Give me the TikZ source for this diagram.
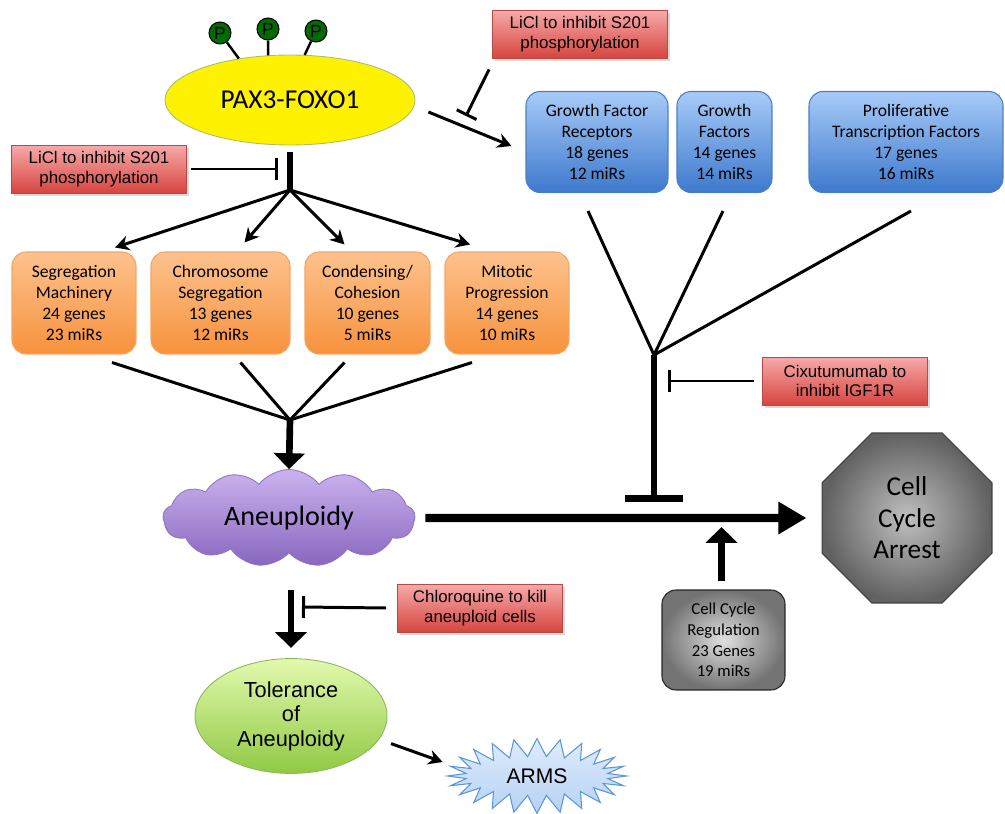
\documentclass[tikz,border=0pt]{standalone}
\usepackage{fontspec}
\setmainfont{Carlito}
\newfontfamily\arialfont{Liberation Sans}
\usetikzlibrary{arrows.meta,shapes.geometric,shapes.symbols,shadows}

\definecolor{orgtop}{HTML}{FDC28E}
\definecolor{orgbot}{HTML}{F7923C}
\definecolor{orgline}{HTML}{F2A663}
\definecolor{bluetop}{HTML}{A8CBF8}
\definecolor{bluebot}{HTML}{3D79CD}
\definecolor{blueline}{HTML}{4A7EC4}
\definecolor{redtop}{HTML}{F7AAAA}
\definecolor{redbot}{HTML}{D6453F}
\definecolor{redline}{HTML}{B84A46}
\definecolor{purtop}{HTML}{CBB3EE}
\definecolor{purbot}{HTML}{8866BE}
\definecolor{purline}{HTML}{8F74C2}
\definecolor{grntop}{HTML}{E2F9AE}
\definecolor{grnbot}{HTML}{90C944}
\definecolor{grnline}{HTML}{8DB85A}
\definecolor{startop}{HTML}{DFECFC}
\definecolor{starbot}{HTML}{B6D1F3}
\definecolor{starline}{HTML}{5B96D8}
\definecolor{pgreen}{HTML}{006B00}
\definecolor{paxline}{HTML}{A9BE6A}

\tikzset{
  genebox/.style={rounded corners=8pt, line width=0.6pt, align=center, minimum height=2.04cm, inner sep=1pt, font=\fontsize{10}{11.9}\selectfont},
  orangebox/.style={genebox, draw=orgline, top color=orgtop, bottom color=orgbot},
  bluebox/.style={genebox, draw=blueline, top color=bluetop, bottom color=bluebot, minimum height=2.02cm},
  drugbox/.style={draw=redline, line width=0.5pt, top color=redtop, bottom color=redbot, align=center, minimum width=3.5cm, minimum height=0.96cm, inner sep=1pt, font=\arialfont\fontsize{9.6}{11.3}\selectfont, drop shadow={opacity=0.3, shadow xshift=1.5pt, shadow yshift=-1.5pt}},
  phos/.style={circle, draw=black, line width=0.6pt, fill=pgreen, minimum size=0.44cm, inner sep=0pt, font=\arialfont\fontsize{10}{10}\selectfont},
  thinarrow/.style={line width=1.7pt, -{Stealth[length=8pt,width=8.5pt]}},
  inhibit/.style={line width=1.7pt, -{Bar[width=12.5pt]}},
  fatarrow/.style={line width=3.8pt, -{Triangle[length=9pt,width=17.5pt]}},
  fatline/.style={line width=3.8pt}
}

\begin{document}
\begin{tikzpicture}[x=0.02cm, y=-0.02cm]
\useasboundingbox (0,0) rectangle (1005,814);

\node[ellipse, draw=paxline, line width=0.5pt, fill=yellow, minimum width=5cm, minimum height=1.8cm, font=\fontsize{15.5}{18}\selectfont] (pax) at (290,100) {PAX3-FOXO1};
\node[phos] (p1) at (220,33) {P};
\node[phos] (p2) at (268,29) {P};
\node[phos] (p3) at (316,31) {P};
\draw[line width=1.4pt] (p1) -- (pax.141);
\draw[line width=1.4pt] (p2) -- (pax.116);
\draw[line width=1.4pt] (p3) -- (pax.72);

\node[drugbox] (lithtop) at (580,34) {LiCl to inhibit S201\\phosphorylation};
\node[drugbox] (lithleft) at (99,169) {LiCl to inhibit S201\\phosphorylation};
\node[drugbox, minimum width=3.3cm] (cixu) at (845,381) {Cixutumumab to\\inhibit IGF1R};
\node[drugbox, minimum width=3.3cm] (chloro) at (480,608) {Chloroquine to kill\\aneuploid cells};

\node[bluebox, minimum width=2.84cm] (gfr) at (597,142) {Growth Factor\\Receptors\\18 genes\\12 miRs};
\node[bluebox, minimum width=1.9cm] (gf) at (724.5,142) {Growth\\Factors\\14 genes\\14 miRs};
\node[bluebox, minimum width=3.88cm] (ptf) at (906,142) {Proliferative\\Transcription Factors\\17 genes\\16 miRs};

\node[orangebox, minimum width=2.48cm] (segm) at (74,303) {Segregation\\Machinery\\24 genes\\23 miRs};
\node[orangebox, minimum width=2.78cm] (chrom) at (220.5,303) {Chromosome\\Segregation\\13 genes\\12 miRs};
\node[orangebox, minimum width=2.5cm] (cond) at (367.5,303) {Condensing/\\Cohesion\\10 genes\\5 miRs};
\node[orangebox, minimum width=2.48cm] (mito) at (507,303) {Mitotic\\Progression\\14 genes\\10 miRs};

\node[cloud, cloud puffs=13, cloud puff arc=105, cloud ignores aspect, minimum width=5.04cm, minimum height=1.94cm, draw=purline, line width=0.5pt, top color=purtop, bottom color=purbot, font=\fontsize{16}{19}\selectfont] (aneu) at (289,518) {Aneuploidy};
\node[regular polygon, regular polygon sides=8, minimum size=3.68cm, draw=black!75, line width=0.6pt, inner color=black!25, outer color=black!62, align=center, font=\fontsize{15.5}{18}\selectfont] (arrest) at (907,518) {Cell\\Cycle\\Arrest};
\node[genebox, minimum width=2.46cm, minimum height=2cm, draw=black!85, inner color=black!12, outer color=black!55, font=\fontsize{9.5}{11.7}\selectfont] (ccreg) at (723.5,640) {Cell Cycle\\Regulation\\23 Genes\\19 miRs};
\node[ellipse, minimum width=3.84cm, minimum height=2.28cm, draw=grnline, line width=0.5pt, top color=grntop, bottom color=grnbot, align=center, font=\arialfont\fontsize{12.4}{14}\selectfont] (toler) at (291,716) {Tolerance\\of\\Aneuploidy};
\node[starburst, starburst points=24, starburst point height=0.36cm, random starburst=0, minimum width=3.58cm, minimum height=1.5cm, draw=starline, line width=0.6pt, top color=startop, bottom color=starbot, font=\arialfont\fontsize{12}{14}\selectfont] (arms) at (537,776) {ARMS};

\coordinate (hubtop) at (290,152);
\coordinate (hub) at (290,190);
\coordinate (lithend) at (278,169);
\coordinate (topbar) at (466,116);
\coordinate (merge) at (290,420);
\coordinate (gmerge) at (654,355);
\coordinate (gbar) at (654,502);
\coordinate (cixuend) at (668,381);
\coordinate (downtop) at (291,590);
\coordinate (downtip) at (291,648);
\coordinate (chloroend) at (302,607);

\draw[fatline] (hubtop) -- (hub);
\draw[inhibit] ([shift={(4,0)}]lithleft.east) -- (lithend);
\draw[inhibit] ([shift={(-3,11)}]lithtop.south west) -- (topbar);
\draw[thinarrow] ([shift={(13,12)}]pax.east) -- ([shift={(-14,4)}]gfr.west);

\draw[thinarrow] (hub) -- ([shift={(41,-4)}]segm.north);
\draw[thinarrow] (hub) -- ([shift={(24,-9)}]chrom.north);
\draw[thinarrow] (hub) -- ([shift={(-23,-7)}]cond.north);
\draw[thinarrow] (hub) -- ([shift={(-37,-7)}]mito.north);

\draw[line width=1.7pt] ([shift={(38,8)}]segm.south) -- (merge);
\draw[line width=1.7pt] ([shift={(20,8)}]chrom.south) -- (merge);
\draw[line width=1.7pt] ([shift={(-23,8)}]cond.south) -- (merge);
\draw[line width=1.7pt] ([shift={(-35,8)}]mito.south) -- (merge);
\draw[fatarrow] (merge) -- (aneu.north);

\draw[line width=1.7pt] ([shift={(-9,18)}]gfr.south) -- (gmerge);
\draw[line width=1.7pt] ([shift={(-1.5,18)}]gf.south) -- (gmerge);
\draw[line width=1.7pt] ([shift={(5,18)}]ptf.south) -- (gmerge);
\draw[fatline, -{Bar[width=33pt]}] (gmerge) -- (gbar);
\draw[inhibit] ([shift={(-8,0)}]cixu.west) -- (cixuend);

\draw[line width=4.6pt, -{Triangle[length=16pt,width=17.5pt]}] ([shift={(10,0)}]aneu.east) -- ([shift={(-15,0)}]arrest.west);
\draw[fatarrow] ([shift={(-2,-8)}]ccreg.north) -- ([shift={(-2,9)}]arrest.west -| ccreg.north);

\draw[fatarrow] (downtop) -- (downtip);
\draw[inhibit] ([shift={(-11,0)}]chloro.west) -- (chloroend);

\draw[thinarrow] ([shift={(12,4)}]toler.-15) -- ([shift={(-1,-14)}]arms.west);
\end{tikzpicture}
\end{document}
